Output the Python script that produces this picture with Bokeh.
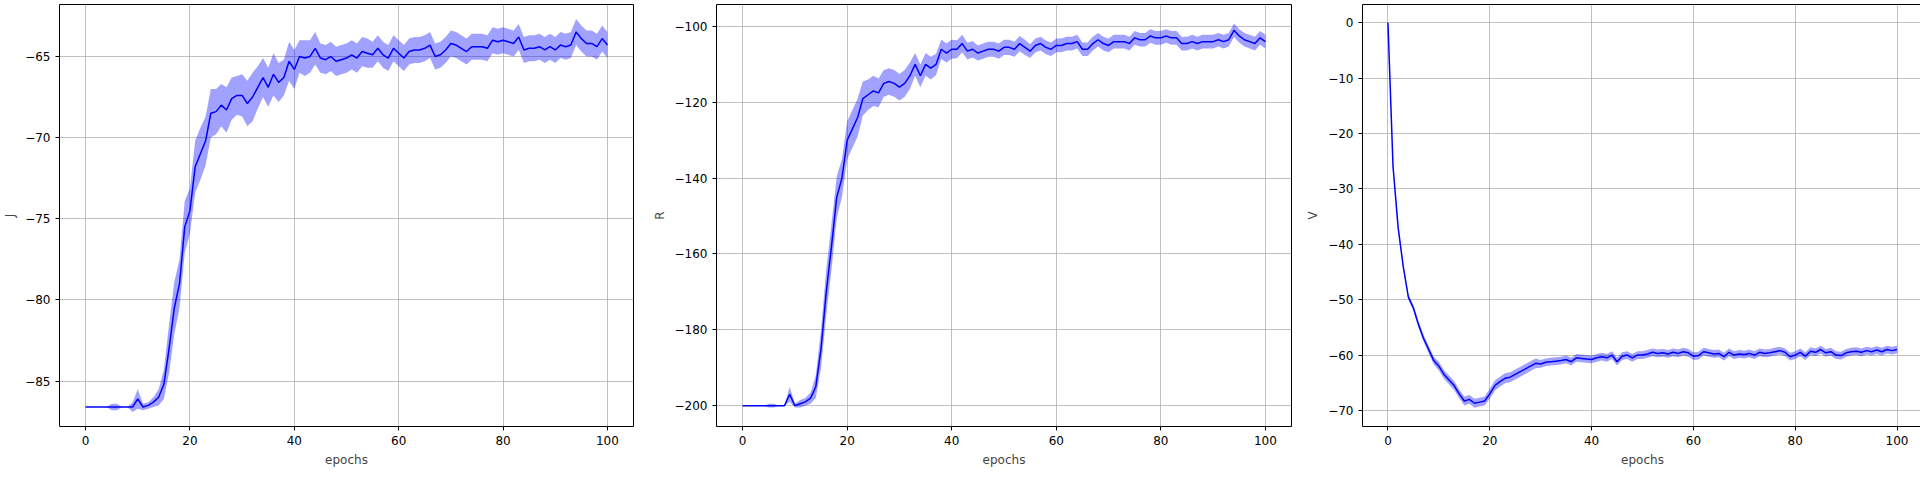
from bokeh.plotting import figure
from bokeh.layouts import row
from bokeh.models import Range1d, FixedTicker
from bokeh.embed import file_html
from bokeh.resources import INLINE
import numpy as np

epochs = list(range(101))

j_mean = [-86.6] * 10 + [-86.1, -86.6, -86.5, -86.3, -86.0, -85.2, -83.0, -80.5, -79.0, -75.5,
          -74.5, -71.8, -71.0, -70.2, -68.5, -68.4, -68.0, -68.3, -67.6, -67.4,
          -67.4, -67.9, -67.5, -66.9, -66.3, -66.9, -66.1, -66.6, -66.3, -65.3,
          -65.8, -65.0, -65.1, -65.0, -64.5, -65.1, -65.2, -65.0, -65.3, -65.2,
          -65.1, -64.9, -65.1, -64.7, -64.8, -64.9, -64.5, -64.9, -65.1, -64.5,
          -64.8, -65.1, -64.7, -64.6, -64.6, -64.5, -64.3, -65.0, -64.9, -64.6,
          -64.2, -64.3, -64.5, -64.7, -64.4, -64.4, -64.4, -64.5, -64.0, -64.1,
          -64.0, -64.1, -64.2, -63.8, -64.6, -64.5, -64.5, -64.4, -64.6, -64.4,
          -64.6, -64.3, -64.4, -64.3, -63.5, -63.9, -64.2, -64.2, -64.4, -63.9, -64.3]
j_std = ([0.0] * 5
         + [0.2, 0.2, 0.0, 0.0, 0.3, 0.6, 0.2, 0.2, 0.3, 0.5]
         + [0.9, 1.5, 1.6, 1.5, 1.6, 1.4, 1.6, 1.6, 1.5, 1.5]
         + [1.4, 1.3, 1.4, 1.3, 1.2, 1.3, 1.4, 1.5, 1.3, 1.2]
         + [1.2, 1.3, 1.2, 1.1, 1.2, 1.2, 1.0, 1.1, 1.0, 1.0]
         + [0.9] * 10 + [0.8] * 46)

r_mean = [-200.0] * 9 + [-197.0, -200.0, -199.5, -199.0, -198.0, -195.0, -185.0, -170.0, -158.0, -145.0, -140.0,
          -130.0, -127.0, -124.0, -119.0, -118.0, -117.0, -117.5, -115.0, -114.5, -115.0,
          -116.0, -115.0, -113.0, -110.0, -113.0, -110.0, -111.0, -110.0, -106.0, -107.0,
          -106.0, -106.0, -104.5, -106.5, -106.0, -107.0, -106.5, -106.0, -106.0, -106.5,
          -105.5, -105.5, -106.0, -104.5, -105.5, -106.5, -105.0, -104.5, -105.5, -106.0,
          -105.0, -105.0, -104.5, -104.5, -104.0, -106.0, -106.0, -104.5, -103.5, -104.5,
          -105.0, -104.0, -104.0, -104.0, -104.5, -103.0, -103.5, -103.5, -102.5, -103.0,
          -103.0, -102.5, -103.0, -103.0, -104.5, -104.5, -104.0, -104.5, -104.0, -104.0,
          -104.0, -103.5, -104.0, -103.5, -101.0, -102.5, -103.5, -104.0, -104.5, -103.0, -104.0]
r_std = ([0.0] * 5
         + [0.5, 0.5, 0.0, 0.0, 2.0, 0.5, 1.0, 1.0, 1.5, 3.0]
         + [5.0, 6.0, 6.0, 5.5, 5.0, 5.0, 5.0, 5.0, 4.5, 4.0]
         + [4.0, 3.8, 3.5, 3.5, 3.5, 3.5, 3.5, 3.5, 3.0, 3.0]
         + [3.0, 3.0, 2.8, 2.6, 2.5, 2.5, 2.4, 2.3, 2.2, 2.2]
         + [2.0] * 10 + [1.8] * 46)

v_mean = [0.0, -26.0, -37.0, -44.0, -49.5, -51.5, -54.5, -57.0, -59.0, -61.0,
          -62.0, -63.5, -64.5, -65.5, -67.0, -68.3, -68.0, -68.7, -68.5, -68.3,
          -67.0, -65.5, -64.8, -64.2, -64.0, -63.5, -63.0, -62.5, -62.0, -61.5,
          -61.6, -61.3, -61.2, -61.1, -61.0, -60.8, -61.2, -60.5, -60.6, -60.7,
          -60.8, -60.5, -60.3, -60.5, -60.0, -61.2, -60.2, -60.0, -60.5, -60.0,
          -60.0, -59.8, -59.5, -59.7, -59.6, -59.8, -59.5, -59.7, -59.4, -59.6,
          -60.2, -60.1, -59.4, -59.6, -59.8, -59.7, -60.3, -59.5, -60.0, -59.8,
          -59.9, -59.7, -60.0, -59.5, -59.7, -59.6, -59.4, -59.2, -59.5, -60.3,
          -60.0, -59.5, -60.2, -59.3, -59.5, -59.0, -59.6, -59.4, -60.0, -60.1,
          -59.6, -59.4, -59.3, -59.5, -59.2, -59.4, -59.1, -59.4, -59.0, -59.2, -59.0]
v_std = [0.0, 0.2, 0.3, 0.4, 0.5, 0.5, 0.6, 0.6, 0.7, 0.7] + [0.8] * 10 + [0.9] * 10 + [0.7] * 71


def make_panel(mean, std, label, y_start, y_end, y_ticks, left, fwidth, right):
    p = figure(frame_width=fwidth, frame_height=422, output_backend="svg",
               toolbar_location=None, min_border_left=left, min_border_right=right,
               min_border_top=4, min_border_bottom=10)
    p.x_range = Range1d(-5, 105)
    p.y_range = Range1d(y_start, y_end)
    m = np.array(mean)
    s = np.array(std)
    p.varea(x=epochs, y1=m - s, y2=m + s, fill_color="blue", fill_alpha=0.37)
    p.line(epochs, mean, line_color="blue", line_width=1.5)

    p.xaxis.ticker = FixedTicker(ticks=[0, 20, 40, 60, 80, 100])
    p.yaxis.ticker = FixedTicker(ticks=y_ticks)
    p.xaxis.axis_label = "epochs"
    p.yaxis.axis_label = label
    for ax in (p.xaxis, p.yaxis):
        ax.axis_label_text_font = "DejaVu Sans"
        ax.axis_label_text_font_size = "12px"
        ax.axis_label_text_font_style = "normal"
        ax.major_label_text_font = "DejaVu Sans"
        ax.major_label_text_font_size = "12px"
        ax.major_label_text_color = "black"
        ax.axis_line_color = None
        ax.minor_tick_line_color = None
        ax.major_tick_line_color = "black"
        ax.major_tick_out = 4
        ax.major_tick_in = 0
    p.grid.grid_line_color = "#b0b0b0"
    p.grid.grid_line_width = 0.8
    p.outline_line_color = "black"
    p.outline_line_width = 1
    p.background_fill_color = "white"
    return p


p1 = make_panel(j_mean, j_std, "J", -87.8, -61.8, [-85, -80, -75, -70, -65], 50, 574, 16)
p2 = make_panel(r_mean, r_std, "R", -205.5, -94.2, [-200, -180, -160, -140, -120, -100], 47, 575, 12)
p3 = make_panel(v_mean, v_std, "V", -72.9, 3.3, [-70, -60, -50, -40, -30, -20, -10, 0], 53, 560, 8)

p = row(p1, p2, p3)
open("out.html", "w").write(file_html(p, INLINE))
